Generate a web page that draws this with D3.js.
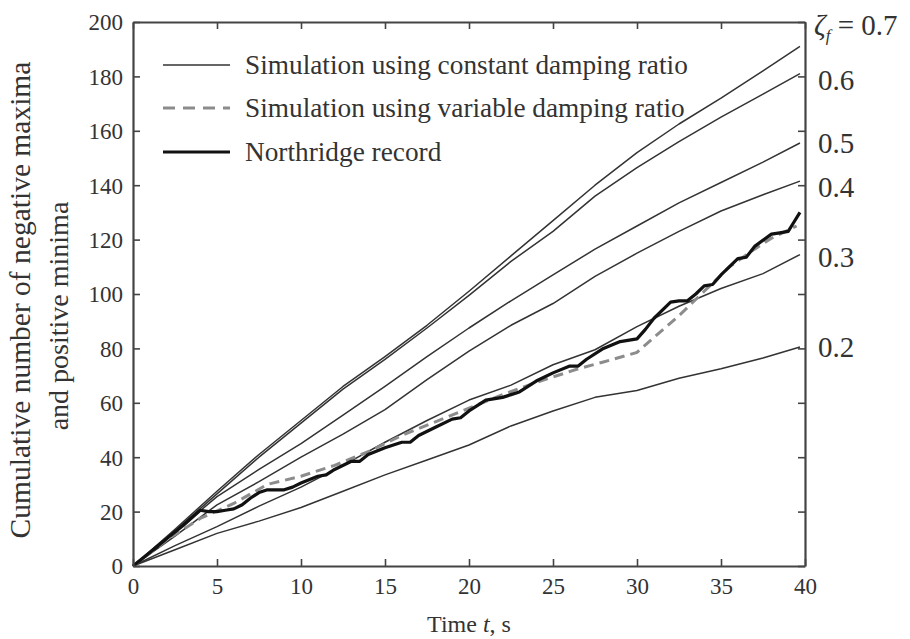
<!DOCTYPE html>
<html>
<head>
<meta charset="utf-8">
<script src="https://cdn.jsdelivr.net/npm/d3@7/dist/d3.min.js"></script>
<style>
  html, body { margin: 0; padding: 0; background: #fff; }
  svg text { font-family: "Liberation Serif", "Times New Roman", Times, "Tinos", "DejaVu Serif", "Noto Serif", serif !important; }
</style>
</head>
<body>
<svg id="chart" width="910" height="639"></svg>
<script>
// Time grid (s) for the constant-damping simulations
const tSim = [0, 2.5, 5, 7.5, 10, 12.5, 15, 17.5, 20, 22.5, 25, 27.5, 30, 32.5, 35, 37.5, 39.7];

// Cumulative counts for each constant damping ratio
const z07 = [0, 13.5, 27.5, 41, 53.5, 66, 77, 88.5, 101, 114, 127, 140, 152, 162.5, 172, 182, 191];
const z06 = [0, 13, 26.5, 40, 52.5, 65, 76, 87.5, 99.5, 112, 123, 136, 146.5, 156, 165, 173.5, 181];
const z05 = [0, 12.5, 25.5, 35.5, 45, 55.5, 66, 77, 87.5, 97.5, 107, 116.5, 125, 133.5, 141, 148.5, 155.5];
const z04 = [0, 11, 22.5, 31, 40, 48.5, 57.5, 68.5, 79, 88.5, 96.5, 106.5, 115, 123, 130.5, 136.5, 141.5];
const z03 = [0, 7.5, 14.5, 22, 29, 37, 45.5, 53.5, 61, 66.5, 74, 79.5, 88, 95.5, 102, 107.5, 114.5];
const z02 = [0, 6, 12, 16.5, 21.5, 27.5, 33.5, 39, 44.5, 51.5, 57, 62, 64.5, 69, 72.5, 76.5, 80.5];

const zetaLabels = ["0.7", "0.6", "0.5", "0.4", "0.3", "0.2"];
const constSeries = [z07, z06, z05, z04, z03, z02];

// Northridge record
const tRec = [0, 1, 2, 3, 4, 4.5, 5, 5.5, 6, 6.5, 7, 7.5, 8, 9, 9.5, 10, 11, 11.5, 12, 13, 13.5, 14, 15, 16, 16.5, 17, 18, 19, 19.5, 20, 21, 22, 22.5, 23, 24, 25, 26, 26.5, 27, 28, 29, 30, 30.5, 31, 32, 32.5, 33, 33.5, 34, 34.5, 35, 36, 36.5, 37, 38, 38.5, 39, 39.3, 39.7];
const rec  = [0, 5, 10, 15, 20.5, 20, 20, 20.5, 21, 22.5, 25, 27, 28, 28, 29, 30.5, 33, 33.5, 35.5, 38.5, 38.5, 41, 43.5, 45.5, 45.5, 48, 51, 54, 54.5, 57, 61, 62, 63, 64, 68, 71, 73.5, 73.5, 76, 80, 82.5, 83.5, 87, 91, 97, 97.5, 97.5, 100, 103, 103.5, 107, 113, 113.5, 117.5, 122, 122.5, 123, 126, 130];

// Simulation using variable damping ratio
const tVar = [0, 2, 4, 6, 8, 10, 12, 14, 16, 18, 20, 22, 24, 25, 26.5, 28, 30, 31, 32.5, 34, 35.5, 37, 38, 39, 39.5];
const vari = [0, 9.5, 17.5, 23, 30, 33, 37, 42, 48, 53, 58, 63, 67.5, 69.5, 72.5, 75, 78.5, 84, 92, 101, 110, 116.5, 120.5, 123.5, 125];

const xTicks = [0, 5, 10, 15, 20, 25, 30, 35, 40];
const yTicks = [0, 20, 40, 60, 80, 100, 120, 140, 160, 180, 200];

const legendItems = [
  { label: "Simulation using constant damping ratio", kind: "const" },
  { label: "Simulation using variable damping ratio", kind: "var" },
  { label: "Northridge record", kind: "rec" }
];

const SERIF = "'Liberation Serif', 'Times New Roman', Times, Tinos, 'DejaVu Serif', 'Noto Serif', serif";

const svg = d3.select("#chart");
const margin = { left: 133, right: 105, top: 22, bottom: 73 };
const W = 910, H = 639;
const x = d3.scaleLinear().domain([0, 40]).range([margin.left, W - margin.right]);
const y = d3.scaleLinear().domain([0, 200]).range([H - margin.bottom, margin.top]);

const axisColor = "#444";
const textColor = "#333";

const styles = {
  const: { stroke: "#333", width: 1.5, dash: null },
  var:   { stroke: "#8c8c8c", width: 3, dash: "10,6" },
  rec:   { stroke: "#111", width: 3.2, dash: null }
};

const line = d3.line().x(d => x(d[0])).y(d => y(d[1])).curve(d3.curveLinear);
const zip = (ts, vs) => ts.map((t, i) => [t, vs[i]]);

// Constant damping simulations
constSeries.forEach(vals => {
  svg.append("path")
    .attr("d", line(zip(tSim, vals)))
    .attr("fill", "none")
    .attr("stroke", styles.const.stroke)
    .attr("stroke-width", styles.const.width)
    .attr("stroke-linejoin", "round");
});

// Variable damping simulation
svg.append("path")
  .attr("d", line(zip(tVar, vari)))
  .attr("fill", "none")
  .attr("stroke", styles.var.stroke)
  .attr("stroke-width", styles.var.width)
  .attr("stroke-dasharray", styles.var.dash);

// Recorded motion
svg.append("path")
  .attr("d", line(zip(tRec, rec)))
  .attr("fill", "none")
  .attr("stroke", styles.rec.stroke)
  .attr("stroke-width", styles.rec.width)
  .attr("stroke-linejoin", "round");

// Axes: ticks point inward on all four sides
const tickLen = 7;
const fmt = d3.format("d");
const gB = svg.append("g").attr("transform", `translate(0,${y(0)})`)
  .call(d3.axisBottom(x).tickValues(xTicks).tickFormat(fmt).tickSizeInner(-tickLen).tickSizeOuter(0).tickPadding(12));
const gT = svg.append("g").attr("transform", `translate(0,${y(200)})`)
  .call(d3.axisTop(x).tickValues(xTicks).tickFormat("").tickSizeInner(-tickLen).tickSizeOuter(0));
const gL = svg.append("g").attr("transform", `translate(${x(0)},0)`)
  .call(d3.axisLeft(y).tickValues(yTicks).tickFormat(fmt).tickSizeInner(-tickLen).tickSizeOuter(0).tickPadding(10));
const gR = svg.append("g").attr("transform", `translate(${x(40)},0)`)
  .call(d3.axisRight(y).tickValues(yTicks).tickFormat("").tickSizeInner(-tickLen).tickSizeOuter(0));

[gB, gT, gL, gR].forEach(g => {
  g.attr("font-family", SERIF).attr("font-size", 23);
  g.select(".domain").attr("stroke", axisColor).attr("stroke-width", 2.2);
  g.selectAll(".tick line").attr("stroke", axisColor).attr("stroke-width", 1.6);
  g.selectAll(".tick text").attr("fill", textColor);
});
gB.selectAll(".tick text").attr("dy", "0.71em");
gL.selectAll(".tick text").attr("dy", "0.34em");

// Axis titles
const xt = svg.append("text")
  .attr("x", (x(0) + x(40)) / 2)
  .attr("y", 632)
  .attr("text-anchor", "middle")
  .attr("fill", textColor)
  .attr("font-family", SERIF)
  .attr("font-size", 24);
xt.append("tspan").text("Time ");
xt.append("tspan").attr("font-style", "italic").text("t");
xt.append("tspan").text(", s");

const yt = svg.append("text")
  .attr("transform", `translate(30,${(y(0) + y(200)) / 2 + 6}) rotate(-90)`)
  .attr("text-anchor", "middle")
  .attr("fill", textColor)
  .attr("font-family", SERIF)
  .attr("font-size", 29.5);
yt.append("tspan").attr("x", 0).attr("dy", 0).text("Cumulative number of negative maxima");
yt.append("tspan").attr("x", -16).attr("dy", 38).attr("font-size", 28).text("and positive minima");

// Damping ratio labels at the right edge
const labelY = [35, 90, 153, 197, 267, 357];
zetaLabels.forEach((lab, i) => {
  const t = svg.append("text")
    .attr("x", 818)
    .attr("y", labelY[i])
    .attr("fill", textColor)
    .attr("font-family", SERIF)
    .attr("font-size", 29);
  if (i === 0) {
    t.attr("x", 814);
    t.append("tspan").attr("font-style", "italic").text("ζ");
    t.append("tspan").attr("font-style", "italic").attr("font-size", 17).attr("dy", 6).text("f");
    t.append("tspan").attr("dy", -6).text(" = " + lab);
  } else {
    t.text(lab);
  }
});

// Legend
const legY = [65, 108, 152];
legendItems.forEach((item, i) => {
  const s = styles[item.kind];
  svg.append("line")
    .attr("x1", 163).attr("x2", 230)
    .attr("y1", legY[i]).attr("y2", legY[i])
    .attr("stroke", s.stroke)
    .attr("stroke-width", item.kind === "const" ? 1.6 : s.width)
    .attr("stroke-dasharray", item.kind === "var" ? "12,8" : null);
  svg.append("text")
    .attr("x", 245)
    .attr("y", legY[i] + 9)
    .attr("fill", textColor)
    .attr("font-family", SERIF)
    .attr("font-size", 27.3)
    .text(item.label);
});
</script>
</body>
</html>
